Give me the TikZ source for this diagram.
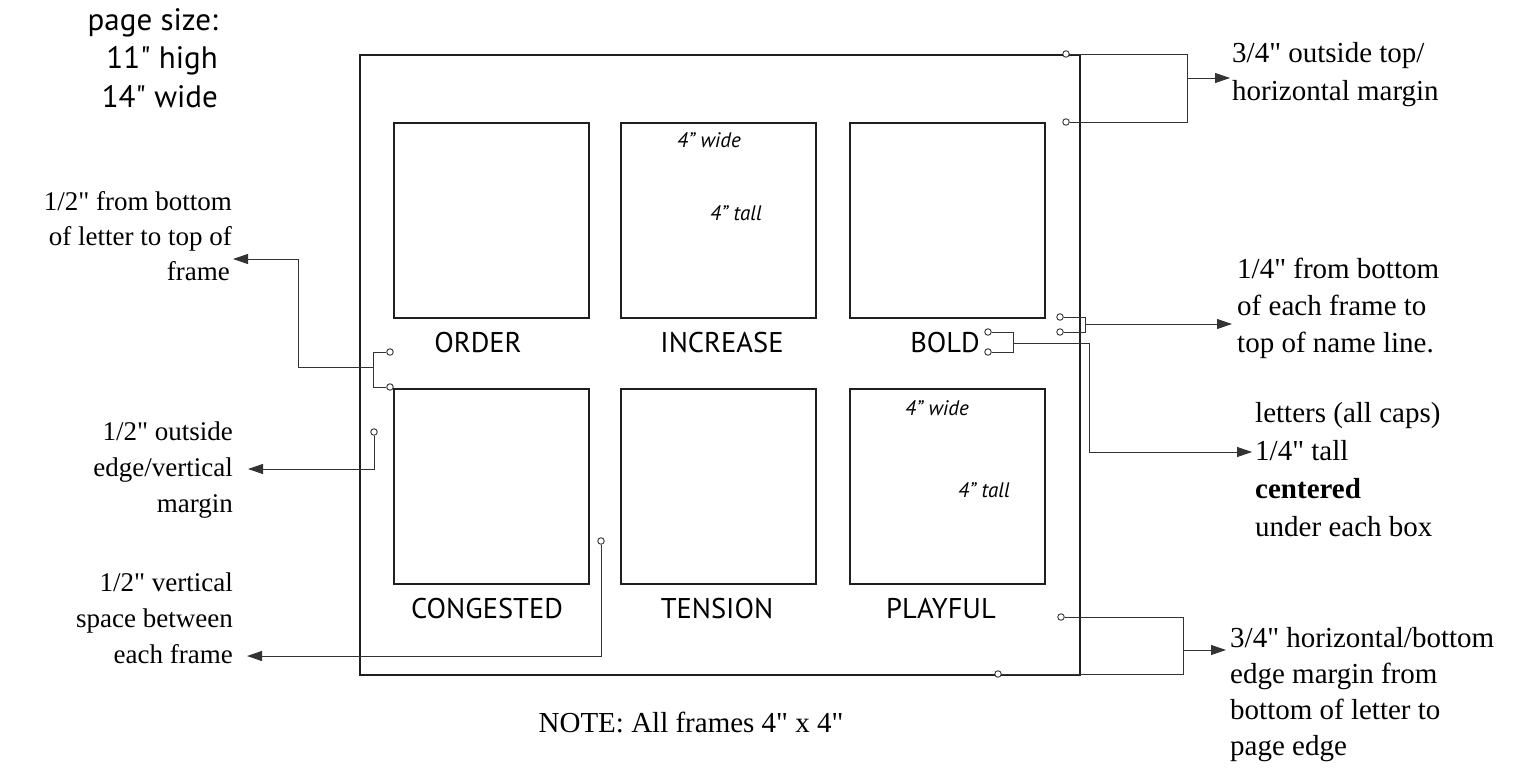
\documentclass[tikz,border=0pt]{standalone}
\usepackage{fontspec}
\setmainfont{Liberation Serif}[Ligatures=TeXOff]
\newfontfamily\labelfont{PT Sans}[Ligatures=TeXOff]
\usetikzlibrary{arrows.meta}
\begin{document}
\begin{tikzpicture}[x=1pt,y=-1pt,
  frm/.style={draw=black!88, line width=1.8pt, inner sep=0pt, anchor=north west},
  box/.style={draw=black!88, line width=1.8pt, inner sep=0pt, anchor=north west, minimum width=195pt, minimum height=195pt},
  conn/.style={draw=black!80, line width=0.9pt},
  arr/.style={conn, -{Triangle[length=15pt,width=10pt]}},
  term/.style={circle, draw=black!80, fill=white, line width=0.9pt, inner sep=0pt, minimum size=6.5pt},
  txtR/.style={font=\fontsize{29}{35}\selectfont, inner sep=0pt, anchor=base west},
  txtL/.style={font=\fontsize{27}{33}\selectfont, inner sep=0pt, anchor=base east},
  lab/.style={font=\labelfont\fontsize{28.5}{34}\selectfont, inner sep=0pt, anchor=base},
  pgs/.style={font=\labelfont\fontsize{31}{38}\selectfont, inner sep=0pt, anchor=base east},
  itl/.style={font=\labelfont\itshape\fontsize{21}{24}\selectfont, inner sep=0pt, anchor=base west}
]
\useasboundingbox (0,0) rectangle (1536,768);

% page frame
\node[frm, minimum width=720pt, minimum height=620pt] (page) at (359,54) {};

% frames
\node[box] (b1) at (393,122) {};
\node[box] (b2) at (620,122) {};
\node[box] (b3) at (849,122) {};
\node[box] (b4) at (393,388) {};
\node[box] (b5) at (620,388) {};
\node[box] (b6) at (849,388) {};

% names
\node[lab] (l1) at (478,352) {ORDER};
\node[lab] (l2) at (722,352) {INCREASE};
\node[lab] (l3) at (945,352) {BOLD};
\node[lab] (l4) at (487,618) {CONGESTED};
\node[lab] (l5) at (717,618) {TENSION};
\node[lab] (l6) at (941,618) {PLAYFUL};

% size notes
\node[itl] (w1) at (677,147) {4” wide};
\node[itl] (h1) at (710,220) {4” tall};
\node[itl] (w2) at (905,415) {4” wide};
\node[itl] (h2) at (958,497) {4” tall};

% page size
\node[pgs] (ps1) at (218,31) {page size:};
\node[pgs] (ps2) at (218,69) {11" high};
\node[pgs] (ps3) at (218,107) {14" wide};

% left notes
\node[txtL] (n1a) at (232,210) {1/2" from bottom};
\node[txtL] (n1b) at (232,245) {of letter to top of};
\node[txtL] (n1c) at (230,280) {frame};
\node[txtL] (n2a) at (233,440) {1/2" outside};
\node[txtL] (n2b) at (233,476) {edge/vertical};
\node[txtL] (n2c) at (233,512) {margin};
\node[txtL] (n3a) at (233,591) {1/2" vertical};
\node[txtL] (n3b) at (233,627) {space between};
\node[txtL] (n3c) at (233,663) {each frame};

% right notes
\node[txtR] (n4a) at (1232,63) {3/4" outside top/};
\node[txtR] (n4b) at (1232,100) {horizontal margin};
\node[txtR] (n5a) at (1237,278) {1/4" from bottom};
\node[txtR] (n5b) at (1237,315) {of each frame to};
\node[txtR] (n5c) at (1237,352) {top of name line.};
\node[txtR] (n6a) at (1255,422) {letters (all caps)};
\node[txtR] (n6b) at (1255,460) {1/4" tall};
\node[txtR] (n6c) at (1255,498) {\textbf{centered}};
\node[txtR] (n6d) at (1255,536) {under each box};
\node[txtR] (n7a) at (1230,647) {3/4" horizontal/bottom};
\node[txtR] (n7b) at (1230,683) {edge margin from};
\node[txtR] (n7c) at (1230,719) {bottom of letter to};
\node[txtR] (n7d) at (1230,755) {page edge};
\node[txtR, anchor=base] (note) at (691,732) {NOTE: All frames 4" x 4"};

% connectors: top margin
\node[term] (t1) at (1066,54) {};
\node[term] (t2) at (1066,122) {};
\coordinate (a1) at (1230,78);
\draw[conn] (t1) -- (1187,54) -- (1187,122) -- (t2);
\draw[arr] (1187,78) -- (a1);

% bottom margin
\node[term] (t3) at (1061,617) {};
\node[term] (t4) at (998,674) {};
\coordinate (a2) at (1226,650);
\draw[conn] (t3) -- (1183,617) -- (1183,674) -- (t4);
\draw[arr] (1183,650) -- (a2);

% frame to name line
\node[term] (t5) at (1060,317) {};
\node[term] (t6) at (1060,332) {};
\coordinate (a3) at (1232,324);
\draw[conn] (t5) -- (1085,317) -- (1085,332) -- (t6);
\draw[arr] (1085,324) -- (a3);

% letters
\node[term] (t7) at (988,332) {};
\node[term] (t8) at (988,352) {};
\coordinate (a4) at (1252,452);
\draw[conn] (t7) -- (1013,332) -- (1013,352) -- (t8);
\draw[arr] (1013,343) -- (1089,343) -- (1089,452) -- (a4);

% letter to frame
\node[term] (t9) at (390,352) {};
\node[term] (t10) at (390,387) {};
\coordinate (a5) at (233,259);
\draw[conn] (t9) -- (373,352) -- (373,387) -- (t10);
\draw[arr] (373,367) -- (298,367) -- (298,259) -- (a5);

% outside edge
\node[term] (t11) at (374,432) {};
\coordinate (a6) at (248,469);
\draw[arr] (t11) -- (374,469) -- (a6);

% vertical space
\node[term] (t12) at (601,541) {};
\coordinate (a7) at (247,656);
\draw[arr] (t12) -- (601,656) -- (a7);
\end{tikzpicture}
\end{document}
